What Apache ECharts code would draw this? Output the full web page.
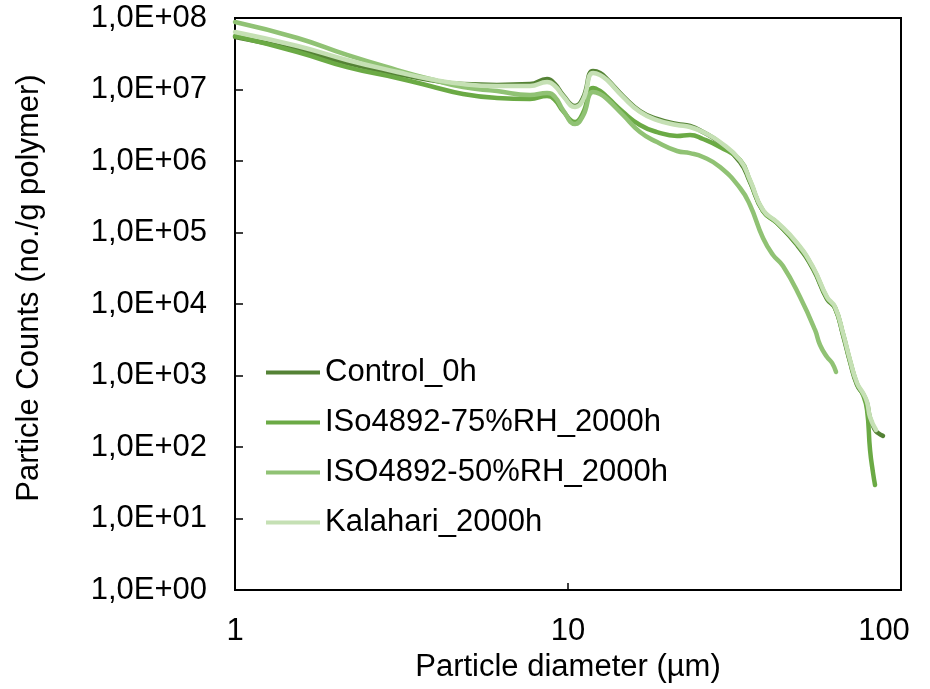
<!DOCTYPE html>
<html>
<head>
<meta charset="utf-8">
<script src="https://cdn.jsdelivr.net/npm/echarts@6/dist/echarts.min.js"></script>
<style>
html,body{margin:0;padding:0;background:#fff;}
#chart{width:930px;height:689px;}
</style>
</head>
<body>
<div id="chart"></div>
<script>
// ---- Data ----
const seriesNames = ['Control_0h', 'ISo4892-75%RH_2000h', 'ISO4892-50%RH_2000h', 'Kalahari_2000h'];

const controlX = [1.00,1.54,2.17,3.07,3.85,4.84,6.12,7.69,8.65,9.14,9.66,10.5,11.09,11.89,12.48,13.1,14.63,16.45,18.51,21.25,23.25,25.43,28.61,32.86,35.2,38.51,42.43,48.73,54.42,59.97,63.38,66.96,70.29,73.79,76.91,79.07,80.73,83.57,85.32,88.3];
const controlY = [5.42e7,3.57e7,2.35e7,1.65e7,1.36e7,1.19e7,1.16e7,1.19e7,1.40e7,1.19e7,8.38e6,5.88e6,7.61e6,1.81e7,1.70e7,1.40e7,8.11e6,5.00e6,3.87e6,3.29e6,3.09e6,2.54e6,1.79e6,9.68e5,5.08e5,2.00e5,1.36e5,6.69e4,3.09e4,1.17e4,8.79e3,3.68e3,1.55e3,736,551,412,254,173,157,143];

const iso75X = [1.00,1.54,2.17,3.07,3.85,4.84,6.12,7.69,8.65,9.14,9.66,10.5,11.09,11.89,12.48,13.1,14.63,16.45,18.51,21.25,23.25,25.43,28.61,32.86,35.2,38.51,42.43,48.73,54.42,59.97,63.38,66.96,70.29,73.79,76.91,79.07,80.73,82.42,83.57];
const iso75Y = [5.6e7,3.35e7,2.06e7,1.45e7,1.12e7,8.65e6,7.61e6,7.36e6,8.11e6,7.13e6,5.00e6,3.51e6,4.69e6,1.05e7,9.53e6,7.86e6,4.85e6,3.19e6,2.54e6,2.24e6,2.31e6,2.03e6,1.57e6,1.03e6,5.25e5,2.00e5,1.36e5,6.91e4,3.19e4,1.21e4,8.79e3,3.81e3,1.60e3,760,534,329,90.8,43.3,29.4];

const iso50X = [1.00,1.54,2.17,3.07,3.85,4.84,6.12,7.69,8.65,9.14,9.66,10.5,11.09,11.89,12.48,13.1,14.63,16.45,18.51,21.25,23.25,25.43,28.61,32.86,35.2,38.51,41.27,44.22,49.75,55.18,57.13,59.97,62.08,63.81];
const iso50Y = [8.79e7,5.25e7,3.04e7,1.87e7,1.40e7,1.08e7,9.53e6,8.38e6,8.93e6,7.86e6,5.17e6,3.29e6,4.26e6,9.23e6,8.65e6,7.36e6,4.40e6,2.54e6,1.84e6,1.38e6,1.29e6,1.14e6,8.24e5,4.19e5,2.42e5,8.38e4,4.85e4,3.40e4,1.25e4,4.33e3,2.67e3,1.81e3,1.50e3,1.12e3];

const kalahariX = [1.00,1.54,2.17,3.07,3.85,4.84,6.12,7.69,8.65,9.14,9.66,10.5,11.09,11.89,12.48,13.1,14.63,16.45,18.51,21.25,23.25,25.43,28.61,32.86,35.2,38.51,42.43,48.73,54.42,59.97,63.38,66.96,70.29,73.79,76.91,79.07,80.73,84.15];
const kalahariY = [6.37e7,4.06e7,2.59e7,1.76e7,1.40e7,1.19e7,1.12e7,1.12e7,1.27e7,1.12e7,8.11e6,5.69e6,7.13e6,1.70e7,1.60e7,1.36e7,7.86e6,4.85e6,3.74e6,3.19e6,2.99e6,2.54e6,1.84e6,1.03e6,5.42e5,2.06e5,1.40e5,7.13e4,3.29e4,1.25e4,9.08e3,3.93e3,1.65e3,786,569,426,263,173];

const yTickLabels = ['1,0E+00','1,0E+01','1,0E+02','1,0E+03','1,0E+04','1,0E+05','1,0E+06','1,0E+07','1,0E+08'];
const xTickLabels = {1: '1', 10: '10', 100: '100'};

const colors = ['#548235', '#6BAA45', '#90C274', '#C5E0B4'];
const xsAll = [controlX, iso75X, iso50X, kalahariX];
const ysAll = [controlY, iso75Y, iso50Y, kalahariY];

const FONT = '"Liberation Sans", Arial, sans-serif';
const FS = 31;

const chart = echarts.init(document.getElementById('chart'), null, {renderer: 'canvas'});

const series = seriesNames.map((name, k) => ({
  name: name,
  type: 'line',
  data: xsAll[k].map((x, i) => [x, ysAll[k][i]]),
  smooth: 0.5,
  symbol: 'none',
  showSymbol: false,
  lineStyle: {color: colors[k], width: 4.5, cap: 'round', join: 'round'},
  itemStyle: {color: colors[k]},
  z: 2 + k
}));

chart.setOption({
  animation: false,
  backgroundColor: '#fff',
  grid: {left: 235, right: 29, top: 18, bottom: 99, show: true, borderColor: '#000', borderWidth: 2, containLabel: false},
  legend: {
    orient: 'vertical',
    left: 261,
    top: 352,
    icon: 'rect',
    itemWidth: 54,
    itemHeight: 4,
    itemGap: 19,
    data: seriesNames,
    textStyle: {fontFamily: FONT, fontSize: FS, color: '#000'}
  },
  xAxis: {
    type: 'log',
    logBase: 10,
    min: 1,
    max: 100,
    name: 'Particle diameter (µm)',
    nameLocation: 'middle',
    nameGap: 55,
    nameTextStyle: {fontFamily: FONT, fontSize: FS, color: '#000'},
    axisLine: {show: true, lineStyle: {color: '#000', width: 2}},
    axisTick: {show: true, inside: true, length: 7, lineStyle: {color: '#000', width: 1.5}},
    minorTick: {show: false},
    splitLine: {show: false},
    axisLabel: {
      margin: 26,
      fontFamily: FONT, fontSize: FS, color: '#000',
      formatter: v => {
        const t = xTickLabels[Math.round(v)] || '';
        return Math.round(v) === 100 ? '{last|' + t + '}' : t;
      },
      rich: {last: {fontFamily: FONT, fontSize: FS, color: '#000', padding: [0, 34, 0, 0]}}
    }
  },
  yAxis: {
    type: 'log',
    logBase: 10,
    min: 1,
    max: 1e8,
    splitNumber: 8,
    name: 'Particle Counts (no./g polymer)',
    nameLocation: 'middle',
    nameGap: 190,
    nameTextStyle: {fontFamily: FONT, fontSize: FS, color: '#000', padding: [0, 0, 0, 32]},
    axisLine: {show: true, lineStyle: {color: '#000', width: 2}},
    axisTick: {show: true, inside: true, length: 8, lineStyle: {color: '#000', width: 1.5}},
    minorTick: {show: false},
    splitLine: {show: false},
    axisLabel: {
      margin: 28,
      fontFamily: FONT, fontSize: FS, color: '#000',
      formatter: v => yTickLabels[Math.round(Math.log10(v))] || ''
    }
  },
  series: series
});
</script>
</body>
</html>
